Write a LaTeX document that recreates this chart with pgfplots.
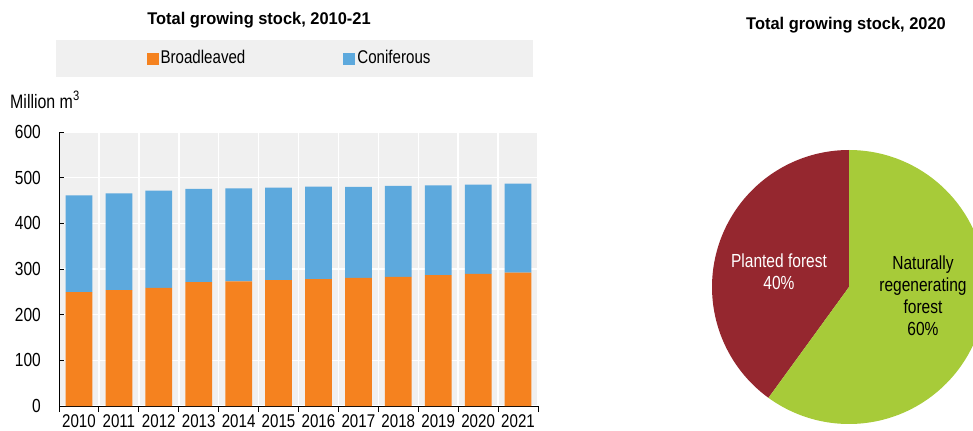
\documentclass[border=0pt]{standalone}
\usepackage{pgfplots}
\usepackage{pgfplotstable}
\pgfplotsset{compat=1.18}
\usepackage{fontspec}
\setmainfont{Liberation Sans}[FakeStretch=0.82]
\newfontfamily\titlefont{Liberation Sans}[FakeStretch=0.97]
\definecolor{orangeB}{HTML}{F5821F}
\definecolor{blueC}{HTML}{5DA9DD}
\definecolor{bggrey}{HTML}{F0F0F0}
\definecolor{plantred}{HTML}{95272F}
\definecolor{natgreen}{HTML}{A7CB39}

\pgfplotstableread{
x year broad conif
0 2010 249.3 212.2
1 2011 253.7 212.1
2 2012 258.8 212.9
3 2013 271.2 204.1
4 2014 272.7 204.1
5 2015 275.6 202.6
6 2016 277.8 202.6
7 2017 280.7 199.0
8 2018 282.9 199.0
9 2019 286.5 196.8
10 2020 289.4 195.4
11 2021 292.3 194.7
}\stocktable

\begin{document}
\fontsize{18}{22}\selectfont
\begin{tikzpicture}[x=1bp,y=1bp]
\useasboundingbox (0,0) rectangle (973,430);
% titles
\node[font=\fontsize{17}{20}\selectfont\titlefont\bfseries] at (259,410) {Total growing stock, 2010-21};
\node[font=\fontsize{17}{20}\selectfont\titlefont\bfseries] at (846,405) {Total growing stock, 2020};
% legend background
\fill[bggrey] (56,353) rectangle (533,390);
\node[anchor=west, inner sep=0pt, font=\fontsize{19.5}{22}\selectfont] at (10,330) {Million m\textsuperscript{3}};

\begin{axis}[
  at={(59bp,24bp)}, anchor=south west,
  scale only axis, width=479bp, height=274bp,
  xmin=-0.5, xmax=11.5, ymin=0, ymax=600,
  ybar stacked, bar width=0.67,
  axis background/.style={fill=bggrey},
  axis x line*=bottom, axis y line*=left,
  axis line style={black, line width=0.9bp},
  xtick={0,...,11},
  xticklabels={2010,2011,2012,2013,2014,2015,2016,2017,2018,2019,2020,2021},
  major x tick style={draw=none},
  minor xtick={-0.5,0.5,...,11.5},
  minor tick length=6bp,
  minor x tick style={black, line width=0.9bp},
  x tick label style={font=\fontsize{18.5}{22}\selectfont, yshift=2.5bp},
  ytick={0,100,...,600},
  ytick align=inside,
  xtick align=outside,
  major tick length=5bp,
  major y tick style={black, line width=0.9bp},
  y tick label style={font=\fontsize{19}{22}\selectfont, xshift=-12bp},
  xminorgrids=true, ymajorgrids=true,
  minor grid style={white, line width=1.5bp},
  major grid style={white, line width=1.5bp},
  axis on top=false,
  /pgf/number format/assume math mode=true,
  legend columns=2,
  legend style={at={(0.4812,1.268)}, anchor=center, fill=none, draw=none,
    font=\fontsize{18.5}{22}\selectfont,
    nodes={inner xsep=2bp},
    /tikz/every even column/.append style={column sep=96bp}},
  legend image code/.code={\fill[#1] (0bp,-6bp) rectangle (12bp,6bp);},
]
\addplot[fill=orangeB, draw=none] table[x=x, y=broad] {\stocktable};
\addlegendentry{Broadleaved}
\addplot[fill=blueC, draw=none] table[x=x, y=conif] {\stocktable};
\addlegendentry{Coniferous}
\end{axis}

% pie: planted 40% (144 deg), naturally regenerating 60% (216 deg)
\begin{axis}[
  at={(849bp,143bp)}, anchor=center,
  scale only axis, width=274bp, height=274bp,
  xmin=-1, xmax=1, ymin=-1, ymax=1,
  hide axis, clip=false,
]
\addplot[fill=plantred, draw=none, domain=90:234, samples=120, variable=\t]
  ({cos(\t)},{sin(\t)}) -- (axis cs:0,0) -- cycle;
\addplot[fill=natgreen, draw=none, domain=234:450, samples=160, variable=\t]
  ({cos(\t)},{sin(\t)}) -- (axis cs:0,0) -- cycle;
\node[white, align=center, font=\fontsize{19}{22}\selectfont] at (axis cs:-0.511,0.109) {Planted forest\\40\%};
\node[black, align=center, font=\fontsize{19}{22}\selectfont] at (axis cs:0.54,-0.066) {Naturally\\regenerating\\forest\\60\%};
\end{axis}
\end{tikzpicture}
\end{document}
